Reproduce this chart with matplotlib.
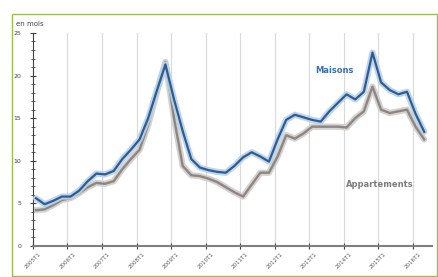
import numpy as np
import matplotlib
matplotlib.use('Agg')
import matplotlib.pyplot as plt
from matplotlib.patches import Rectangle
from matplotlib.ticker import MultipleLocator

# délai en mois, données trimestrielles
maisons = [5.6, 4.9, 5.3, 5.8, 5.8, 6.5, 7.6, 8.5, 8.4, 8.8,
           10.2, 11.3, 12.5, 15.0, 18.2, 21.3, 17.2, 13.5, 10.2, 9.2,
           8.9, 8.7, 8.6, 9.4, 10.4, 11.0, 10.5, 9.9, 12.5, 14.8,
           15.4, 15.1, 14.8, 14.6, 15.8, 16.8, 17.8, 17.2, 18.1, 22.7,
           19.2, 18.3, 17.8, 18.1, 15.5, 13.4]
appartements = [4.2, 4.3, 4.8, 5.4, 5.6, 6.2, 6.9, 7.4, 7.3, 7.6,
                9.0, 10.2, 11.3, 14.2, 18.0, 21.6, 15.0, 9.4, 8.3, 8.2,
                7.9, 7.5, 6.9, 6.3, 5.8, 7.2, 8.6, 8.6, 10.5, 13.0,
                12.6, 13.2, 14.0, 14.0, 14.0, 14.0, 13.9, 15.0, 15.8, 18.7,
                16.0, 15.6, 15.8, 16.0, 14.0, 12.5]
labels = ['2005T1', '2006T1', '2007T1', '2008T1', '2009T1', '2010T1',
          '2011T1', '2012T1', '2013T1', '2014T1', '2015T1', '2016T1']

x = np.arange(len(maisons))
ticks = np.arange(len(labels)) * 4 - 0.35

fig = plt.figure(figsize=(4.38, 2.77), dpi=100)
ax = fig.add_axes([0.0753, 0.112, 0.911, 0.769])

# cadre vert
fig.patches.append(Rectangle((0.027, 0.004), 0.97, 0.945, transform=fig.transFigure,
                             fill=False, edgecolor='#9bbb59', linewidth=1.0))

for t in ticks[1:]:
    ax.axvline(t, color='#d9d9d9', linewidth=0.8, zorder=0)

# lignes avec halo
ax.plot(x, appartements, color='#d4d1d0', linewidth=4.5, solid_capstyle='round', zorder=2)
ax.plot(x, appartements, color='#8c8782', linewidth=1.7, zorder=3)
ax.plot(x, maisons, color='#b8d1ea', linewidth=4.5, solid_capstyle='round', alpha=0.9, zorder=4)
ax.plot(x, maisons, color='#2f5c8f', linewidth=1.6, zorder=5)

ax.set_xlim(-0.35, 45.9)
ax.set_ylim(0, 25)
ax.set_xticks(ticks)
ax.set_xticklabels(labels, rotation=45, ha='center', va='top', fontsize=4, color='#595959')
ax.yaxis.set_major_locator(MultipleLocator(5))
ax.yaxis.set_minor_locator(MultipleLocator(1))
ax.tick_params(axis='y', which='major', direction='inout', length=5, width=0.8,
               labelsize=4.5, colors='#404040', pad=6)
ax.tick_params(axis='y', which='minor', direction='inout', length=2.5, width=0.6, color='#404040')
ax.tick_params(axis='x', direction='inout', length=4, width=0.8, color='#404040', pad=2)

for s in ['top', 'right']:
    ax.spines[s].set_visible(False)
ax.spines['left'].set_color('#404040')
ax.spines['left'].set_linewidth(0.8)
ax.spines['bottom'].set_color('#7f7f7f')
ax.spines['bottom'].set_linewidth(1.5)

fig.text(0.036, 0.905, 'en mois', fontsize=5, color='#404040')
ax.text(32.4, 20.3, 'Maisons', fontsize=6, color='#3d6fa8', fontweight='bold')
ax.text(35.9, 6.9, 'Appartements', fontsize=6, color='#7f7f7f', fontweight='bold')

fig.savefig('out.png', dpi=100)
